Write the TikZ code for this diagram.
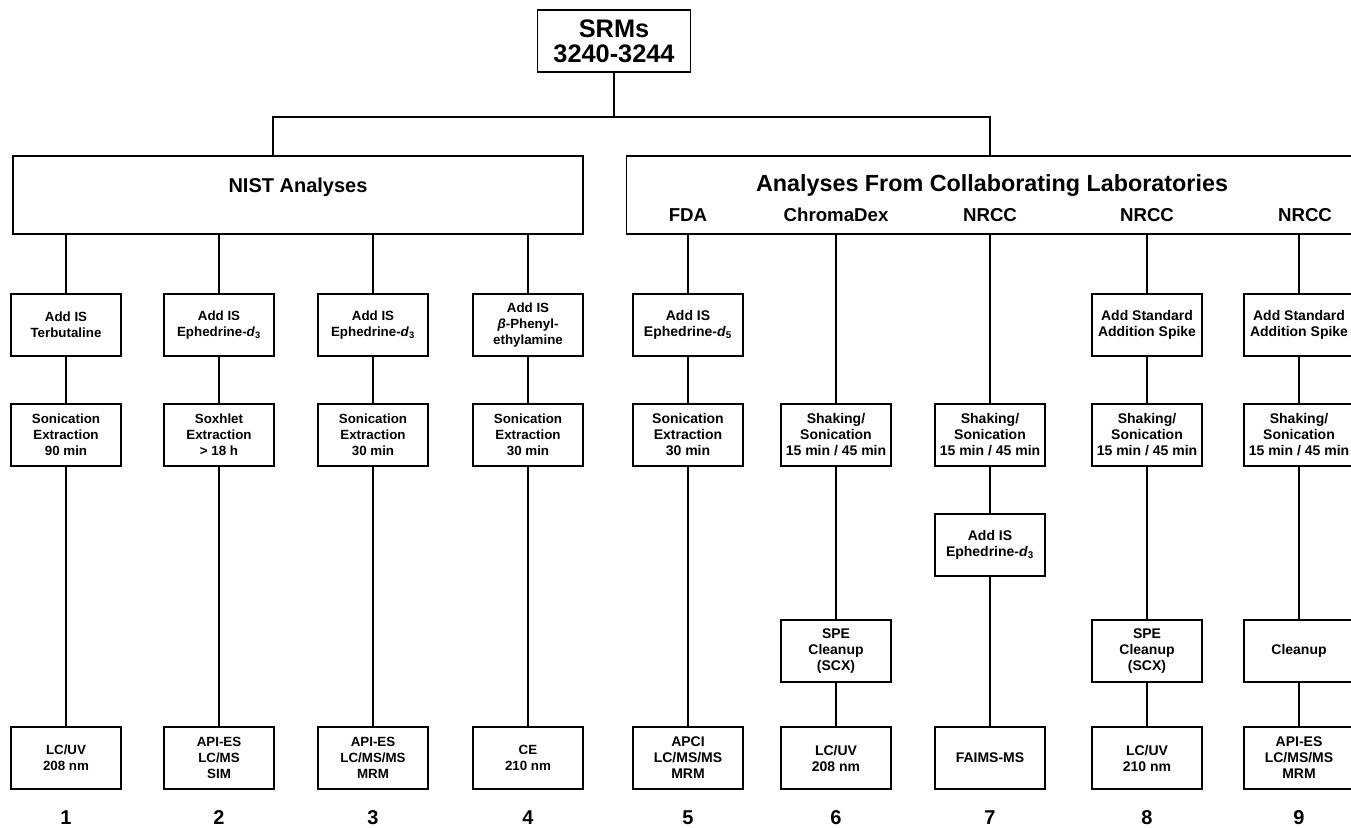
\documentclass[tikz,border=0pt]{standalone}
\usepackage{fontspec}
\setmainfont{Liberation Sans}
\usetikzlibrary{positioning}
\newcommand{\dsub}[1]{\textit{d}\textsubscript{#1}}

\begin{document}
\begin{tikzpicture}[
    x=0.75pt, y=-0.75pt,
    line width=1.1pt,
    box/.style={rectangle, draw, minimum width=82.5pt, minimum height=46.5pt, align=center, inner sep=1pt, font=\fontsize{10}{12}\selectfont\bfseries},
    cbox/.style={box, font=\fontsize{10.5}{12}\selectfont\bfseries},
    bigbox/.style={rectangle, draw, minimum height=58.5pt},
    head/.style={font=\fontsize{15}{18}\selectfont\bfseries},
    lab/.style={font=\fontsize{14}{16}\selectfont\bfseries},
    num/.style={font=\fontsize{15}{18}\selectfont\bfseries}
]
\clip (0,0) rectangle (1351,827);

% Top: the SRM set
\node[box, minimum width=115pt, font=\fontsize{19}{19}\selectfont\bfseries] (srm) at (614,41) {SRMs\\3240-3244};

% Two groups of analyses
\node[bigbox, minimum width=427.5pt] (nist) at (298,195) {};
\node[head] (nisttitle) at (298,187) {NIST Analyses};
\node[bigbox, minimum width=550pt] (collab) at (993,195) {};
\node[head, font=\fontsize{17.5}{18}\selectfont\bfseries] (collabtitle) at (992,186) {Analyses From Collaborating Laboratories};
\node[lab] (fda) at (688,215) {FDA};
\node[lab] (chroma) at (836,215) {ChromaDex};
\node[lab] (nrcca) at (990,215) {NRCC};
\node[lab] (nrccb) at (1147,215) {NRCC};
\node[lab] (nrccc) at (1305,215) {NRCC};

% Split below the SRMs
\coordinate (jl) at (273,117);
\coordinate (jr) at (990,117);
\draw (srm) -- (srm |- jl);
\draw (nist.north -| jl) -- (jl) -- (jr) -- (jr |- collab.north);

% Column 1
\node[box] (a1) at (66,325) {Add IS\\Terbutaline};
\node[box] (b1) at (66,435) {Sonication\\Extraction\\90 min};
\node[box] (e1) at (66,758) {LC/UV\\208 nm};
\node[num] (n1) at (66,818) {1};

% Column 2
\node[box] (a2) at (219,325) {Add IS\\Ephedrine-\dsub{3}};
\node[box] (b2) at (219,435) {Soxhlet\\Extraction\\> 18 h};
\node[box] (e2) at (219,758) {API-ES\\LC/MS\\SIM};
\node[num] (n2) at (219,818) {2};

% Column 3
\node[box] (a3) at (373,325) {Add IS\\Ephedrine-\dsub{3}};
\node[box] (b3) at (373,435) {Sonication\\Extraction\\30 min};
\node[box] (e3) at (373,758) {API-ES\\LC/MS/MS\\MRM};
\node[num] (n3) at (373,818) {3};

% Column 4
\node[box] (a4) at (528,325) {Add IS\\\textit{β}-Phenyl-\\ethylamine};
\node[box] (b4) at (528,435) {Sonication\\Extraction\\30 min};
\node[box] (e4) at (528,758) {CE\\210 nm};
\node[num] (n4) at (528,818) {4};

% Column 5: FDA
\node[cbox] (a5) at (688,325) {Add IS\\Ephedrine-\dsub{5}};
\node[cbox] (b5) at (688,435) {Sonication\\Extraction\\30 min};
\node[cbox] (e5) at (688,758) {APCI\\LC/MS/MS\\MRM};
\node[num] (n5) at (688,818) {5};

% Column 6: ChromaDex
\node[cbox] (b6) at (836,435) {Shaking/\\Sonication\\15 min / 45 min};
\node[cbox] (d6) at (836,651) {SPE\\Cleanup\\(SCX)};
\node[cbox] (e6) at (836,758) {LC/UV\\208 nm};
\node[num] (n6) at (836,818) {6};

% Column 7: NRCC
\node[cbox, line width=1.5pt] (b7) at (990,435) {Shaking/\\Sonication\\15 min / 45 min};
\node[cbox] (c7) at (990,545) {Add IS\\Ephedrine-\dsub{3}};
\node[cbox] (e7) at (990,758) {FAIMS-MS};
\node[num] (n7) at (990,818) {7};

% Column 8: NRCC
\node[cbox] (a8) at (1147,325) {Add Standard\\Addition Spike};
\node[cbox] (b8) at (1147,435) {Shaking/\\Sonication\\15 min / 45 min};
\node[cbox] (d8) at (1147,651) {SPE\\Cleanup\\(SCX)};
\node[cbox] (e8) at (1147,758) {LC/UV\\210 nm};
\node[num] (n8) at (1147,818) {8};

% Column 9: NRCC
\node[cbox] (a9) at (1299,325) {Add Standard\\Addition Spike};
\node[cbox] (b9) at (1299,435) {Shaking/\\Sonication\\15 min / 45 min};
\node[cbox] (d9) at (1299,651) {Cleanup};
\node[cbox] (e9) at (1299,758) {API-ES\\LC/MS/MS\\MRM};
\node[num] (n9) at (1299,818) {9};

% Connectors, NIST side
\draw (nist.south -| a1) -- (a1);  \draw (a1) -- (b1);  \draw (b1) -- (e1);
\draw (nist.south -| a2) -- (a2);  \draw (a2) -- (b2);  \draw (b2) -- (e2);
\draw (nist.south -| a3) -- (a3);  \draw (a3) -- (b3);  \draw (b3) -- (e3);
\draw (nist.south -| a4) -- (a4);  \draw (a4) -- (b4);  \draw (b4) -- (e4);

% Connectors, collaborating side
\draw (collab.south -| a5) -- (a5);  \draw (a5) -- (b5);  \draw (b5) -- (e5);
\draw (collab.south -| b6) -- (b6);  \draw (b6) -- (d6);  \draw (d6) -- (e6);
\draw (collab.south -| b7) -- (b7);  \draw (b7) -- (c7);  \draw (c7) -- (e7);
\draw (collab.south -| a8) -- (a8);  \draw (a8) -- (b8);  \draw (b8) -- (d8);  \draw (d8) -- (e8);
\draw (collab.south -| a9) -- (a9);  \draw (a9) -- (b9);  \draw (b9) -- (d9);  \draw (d9) -- (e9);

\end{tikzpicture}
\end{document}
